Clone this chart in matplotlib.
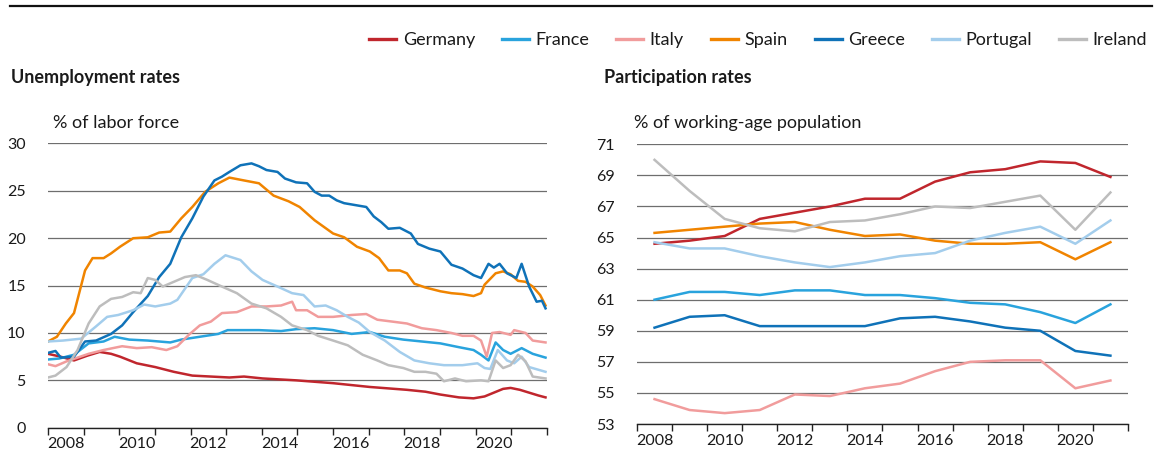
import matplotlib
matplotlib.use("Agg")
import matplotlib.pyplot as plt
from matplotlib.lines import Line2D

plt.rcParams["font.family"] = ["Lato", "DejaVu Sans"]

countries = ["Germany", "France", "Italy", "Spain", "Greece", "Portugal", "Ireland"]
colors = {
    "Germany": "#c0262d",
    "France": "#29a3dd",
    "Italy": "#f19c9c",
    "Spain": "#f08400",
    "Greece": "#0f72b8",
    "Portugal": "#a3cdec",
    "Ireland": "#bdbdbd",
}

# Unemployment rates, % of labor force (dates as decimal years)
germany_t = [2008.00, 2008.35, 2008.73, 2009.10, 2009.45, 2009.77, 2010.02, 2010.49, 2011.01, 2011.53,
             2012.05, 2012.57, 2013.09, 2013.50, 2014.02, 2014.96, 2016.00, 2017.03, 2018.07, 2018.59,
             2019.01, 2019.53, 2019.94, 2020.25, 2020.51, 2020.77, 2020.98, 2021.24, 2021.50, 2021.76, 2021.96]
germany_u = [7.8, 7.5, 7.1, 7.6, 8.0, 7.8, 7.5, 6.8, 6.4, 5.9,
             5.5, 5.4, 5.3, 5.4, 5.2, 5.0, 4.7, 4.3, 4.0, 3.8,
             3.5, 3.2, 3.1, 3.3, 3.7, 4.1, 4.2, 4.0, 3.7, 3.4, 3.2]

france_t = [2008.00, 2008.31, 2008.73, 2009.14, 2009.56, 2009.87, 2010.28, 2010.80, 2011.43, 2011.74,
            2012.26, 2012.78, 2013.04, 2013.92, 2014.54, 2014.96, 2015.48, 2016.00, 2016.52, 2017.03,
            2017.45, 2017.97, 2018.49, 2019.01, 2019.53, 2019.94, 2020.15, 2020.36, 2020.56, 2020.77,
            2020.98, 2021.29, 2021.60, 2021.96]
france_u = [7.2, 7.3, 7.7, 8.9, 9.1, 9.6, 9.3, 9.2, 9.0, 9.3,
            9.6, 9.9, 10.3, 10.3, 10.2, 10.4, 10.5, 10.3, 9.9, 10.1,
            9.6, 9.3, 9.1, 8.9, 8.5, 8.2, 7.7, 7.1, 9.0, 8.2,
            7.8, 8.4, 7.8, 7.4]

italy_t = [2008.00, 2008.21, 2008.52, 2009.14, 2009.56, 2010.08, 2010.49, 2010.91, 2011.32, 2011.63,
           2011.95, 2012.26, 2012.57, 2012.88, 2013.30, 2013.71, 2014.13, 2014.54, 2014.85, 2014.96,
           2015.27, 2015.58, 2016.00, 2016.52, 2016.93, 2017.24, 2017.66, 2018.07, 2018.49, 2018.90,
           2019.32, 2019.63, 2019.94, 2020.15, 2020.31, 2020.46, 2020.67, 2020.98, 2021.08, 2021.40,
           2021.60, 2021.96]
italy_u = [6.7, 6.5, 7.0, 7.8, 8.2, 8.6, 8.4, 8.5, 8.2, 8.6,
           9.8, 10.8, 11.2, 12.1, 12.2, 12.8, 12.8, 12.9, 13.3, 12.4,
           12.4, 11.7, 11.7, 11.9, 12.0, 11.4, 11.2, 11.0, 10.5, 10.3,
           10.0, 9.7, 9.7, 9.2, 7.5, 10.0, 10.1, 9.8, 10.3, 10.0,
           9.2, 9.0]

spain_t = [2008.00, 2008.25, 2008.50, 2008.73, 2009.04, 2009.25, 2009.56, 2009.77, 2010.02, 2010.39,
           2010.80, 2011.12, 2011.43, 2011.74, 2012.05, 2012.41, 2012.78, 2013.09, 2013.50, 2013.92,
           2014.33, 2014.75, 2015.06, 2015.48, 2016.00, 2016.31, 2016.67, 2017.03, 2017.29, 2017.55,
           2017.87, 2018.07, 2018.28, 2018.59, 2019.01, 2019.32, 2019.63, 2019.94, 2020.15, 2020.25,
           2020.56, 2020.77, 2020.98, 2021.19, 2021.40, 2021.60, 2021.81, 2021.96]
spain_u = [9.1, 9.6, 11.0, 12.1, 16.6, 17.9, 17.9, 18.4, 19.1, 20.0,
           20.1, 20.6, 20.7, 22.1, 23.3, 24.9, 25.8, 26.4, 26.1, 25.8,
           24.5, 23.9, 23.3, 21.9, 20.5, 20.1, 19.1, 18.6, 17.9, 16.6,
           16.6, 16.3, 15.2, 14.8, 14.4, 14.2, 14.1, 13.9, 14.2, 15.1,
           16.3, 16.5, 16.2, 15.5, 15.4, 14.9, 14.0, 12.9]

greece_t = [2008.00, 2008.21, 2008.36, 2008.73, 2009.04, 2009.35, 2009.77, 2010.08, 2010.39, 2010.80,
            2011.12, 2011.43, 2011.74, 2012.05, 2012.36, 2012.67, 2012.88, 2013.09, 2013.40, 2013.71,
            2013.92, 2014.13, 2014.44, 2014.65, 2014.96, 2015.27, 2015.48, 2015.68, 2015.89, 2016.10,
            2016.31, 2016.62, 2016.93, 2017.14, 2017.35, 2017.55, 2017.87, 2018.18, 2018.38, 2018.70,
            2019.01, 2019.32, 2019.63, 2019.94, 2020.15, 2020.36, 2020.51, 2020.67, 2020.88, 2021.14,
            2021.29, 2021.50, 2021.71, 2021.86, 2021.96]
greece_u = [7.9, 8.1, 7.4, 7.5, 9.1, 9.2, 9.9, 10.8, 12.2, 13.9,
            15.9, 17.3, 20.1, 22.1, 24.4, 26.1, 26.5, 27.0, 27.7, 27.9,
            27.6, 27.2, 27.0, 26.3, 25.9, 25.8, 24.9, 24.5, 24.5, 24.0,
            23.7, 23.5, 23.3, 22.3, 21.7, 21.0, 21.1, 20.5, 19.4, 18.9,
            18.6, 17.2, 16.8, 16.1, 15.8, 17.3, 16.9, 17.3, 16.3, 15.8,
            17.3, 14.9, 13.3, 13.4, 12.6]

portugal_t = [2008.00, 2008.42, 2008.93, 2009.35, 2009.66, 2009.97, 2010.39, 2010.70, 2011.01, 2011.43,
              2011.63, 2012.05, 2012.36, 2012.67, 2012.98, 2013.40, 2013.71, 2014.02, 2014.44, 2014.85,
              2015.17, 2015.48, 2015.79, 2016.10, 2016.41, 2016.72, 2017.03, 2017.45, 2017.87, 2018.28,
              2018.70, 2019.11, 2019.63, 2020.05, 2020.25, 2020.41, 2020.62, 2020.88, 2021.08, 2021.29,
              2021.50, 2021.96]
portugal_u = [9.1, 9.2, 9.4, 10.7, 11.7, 11.9, 12.4, 13.0, 12.8, 13.1,
              13.5, 15.8, 16.2, 17.3, 18.2, 17.7, 16.5, 15.6, 14.9, 14.2,
              14.0, 12.8, 12.9, 12.4, 11.7, 11.1, 10.1, 9.2, 8.0, 7.1,
              6.8, 6.6, 6.6, 6.8, 6.3, 6.2, 8.2, 7.1, 6.8, 7.5,
              6.4, 5.9]

ireland_t = [2008.00, 2008.21, 2008.52, 2008.83, 2009.14, 2009.45, 2009.77, 2010.08, 2010.39, 2010.60,
             2010.80, 2011.01, 2011.22, 2011.53, 2011.84, 2012.15, 2012.47, 2012.88, 2013.30, 2013.71,
             2014.13, 2014.54, 2014.85, 2015.27, 2015.58, 2016.00, 2016.41, 2016.83, 2017.24, 2017.55,
             2017.97, 2018.28, 2018.59, 2018.90, 2019.11, 2019.42, 2019.73, 2020.15, 2020.36, 2020.56,
             2020.77, 2020.98, 2021.19, 2021.40, 2021.60, 2021.96]
ireland_u = [5.3, 5.5, 6.4, 8.2, 11.0, 12.8, 13.6, 13.8, 14.3, 14.2,
             15.8, 15.6, 14.9, 15.4, 15.9, 16.1, 15.6, 14.9, 14.2, 13.1,
             12.6, 11.7, 10.8, 10.3, 9.7, 9.2, 8.7, 7.7, 7.1, 6.6,
             6.3, 5.9, 5.9, 5.7, 4.9, 5.2, 4.9, 5.0, 4.9, 7.1,
             6.3, 6.6, 7.7, 7.0, 5.4, 5.2]

unemployment = {
    "Germany": (germany_t, germany_u),
    "France": (france_t, france_u),
    "Italy": (italy_t, italy_u),
    "Spain": (spain_t, spain_u),
    "Greece": (greece_t, greece_u),
    "Portugal": (portugal_t, portugal_u),
    "Ireland": (ireland_t, ireland_u),
}

# Participation rates, % of working-age population (annual, plotted mid-year)
years = [2008, 2009, 2010, 2011, 2012, 2013, 2014, 2015, 2016, 2017, 2018, 2019, 2020, 2021]
germany_p = [64.6, 64.8, 65.1, 66.2, 66.6, 67.0, 67.5, 67.5, 68.6, 69.2, 69.4, 69.9, 69.8, 68.9]
france_p = [61.0, 61.5, 61.5, 61.3, 61.6, 61.6, 61.3, 61.3, 61.1, 60.8, 60.7, 60.2, 59.5, 60.7]
italy_p = [54.6, 53.9, 53.7, 53.9, 54.9, 54.8, 55.3, 55.6, 56.4, 57.0, 57.1, 57.1, 55.3, 55.8]
spain_p = [65.3, 65.5, 65.7, 65.9, 66.0, 65.5, 65.1, 65.2, 64.8, 64.6, 64.6, 64.7, 63.6, 64.7]
greece_p = [59.2, 59.9, 60.0, 59.3, 59.3, 59.3, 59.3, 59.8, 59.9, 59.6, 59.2, 59.0, 57.7, 57.4]
portugal_p = [64.7, 64.3, 64.3, 63.8, 63.4, 63.1, 63.4, 63.8, 64.0, 64.8, 65.3, 65.7, 64.6, 66.1]
ireland_p = [70.0, 68.0, 66.2, 65.6, 65.4, 66.0, 66.1, 66.5, 67.0, 66.9, 67.3, 67.7, 65.5, 67.9]

participation = {
    "Germany": germany_p,
    "France": france_p,
    "Italy": italy_p,
    "Spain": spain_p,
    "Greece": greece_p,
    "Portugal": portugal_p,
    "Ireland": ireland_p,
}

tick_years = [2008, 2010, 2012, 2014, 2016, 2018, 2020]
grid_color = "#6e6e6e"
text_color = "#1a1a1a"
fs_tick = 11.5
fs_text = 13


def style_axis(ax, yticks, ylim):
    ax.set_xlim(2008, 2022)
    ax.set_ylim(*ylim)
    ax.set_yticks(yticks)
    ax.yaxis.grid(True, color=grid_color, linewidth=0.9)
    ax.set_axisbelow(True)
    for side in ["top", "right", "left"]:
        ax.spines[side].set_visible(False)
    ax.spines["bottom"].set_color("#222222")
    ax.spines["bottom"].set_linewidth(1.0)
    ax.set_xticks(range(2008, 2023))
    ax.set_xticklabels([])
    ax.set_xticks([y + 0.5 for y in tick_years], minor=True)
    ax.set_xticklabels([str(y) for y in tick_years], minor=True)
    ax.tick_params(axis="x", which="major", length=5, width=1.0, color="#222222", direction="out")
    ax.tick_params(axis="x", which="minor", length=0, pad=7, labelsize=fs_tick, labelcolor=text_color)
    ax.tick_params(axis="y", length=0, pad=16, labelsize=fs_tick, labelcolor=text_color)


fig = plt.figure(figsize=(11.62, 4.57), dpi=100)

ax1 = fig.add_axes([0.0413, 0.0641, 0.4294, 0.6219])
ax2 = fig.add_axes([0.5482, 0.0722, 0.4225, 0.6120])

style_axis(ax1, range(0, 31, 5), (0, 30))
style_axis(ax2, range(53, 72, 2), (53, 71))

for c in countries:
    t, u = unemployment[c]
    ax1.plot(t, u, color=colors[c], linewidth=1.8, solid_joinstyle="round")
    ax2.plot([y + 0.5 for y in years], participation[c], color=colors[c], linewidth=1.8,
             solid_joinstyle="round")

fig.text(11 / 1162, 1 - 78 / 457, "Unemployment rates", fontsize=fs_text, fontweight="bold",
         color=text_color, va="center", ha="left")
fig.text(53 / 1162, 1 - 123 / 457, "% of labor force", fontsize=fs_text, color=text_color,
         va="center", ha="left")
fig.text(604 / 1162, 1 - 78 / 457, "Participation rates", fontsize=fs_text, fontweight="bold",
         color=text_color, va="center", ha="left")
fig.text(634 / 1162, 1 - 123 / 457, "% of working-age population", fontsize=fs_text,
         color=text_color, va="center", ha="left")

# rule across the top
fig.add_artist(Line2D([10 / 1162, 1152 / 1162], [1 - 6 / 457, 1 - 6 / 457],
                      color="#111111", linewidth=1.6))

handles = [Line2D([], [], color=colors[c], linewidth=2.4) for c in countries]
fig.legend(handles, countries, loc="center right", bbox_to_anchor=(1147 / 1162, 1 - 40 / 457),
           ncol=7, frameon=False, fontsize=fs_text, handlelength=1.5, handletextpad=0.35,
           columnspacing=1.5, borderaxespad=0, borderpad=0, labelcolor=text_color)

fig.savefig("out.png", dpi=100)
